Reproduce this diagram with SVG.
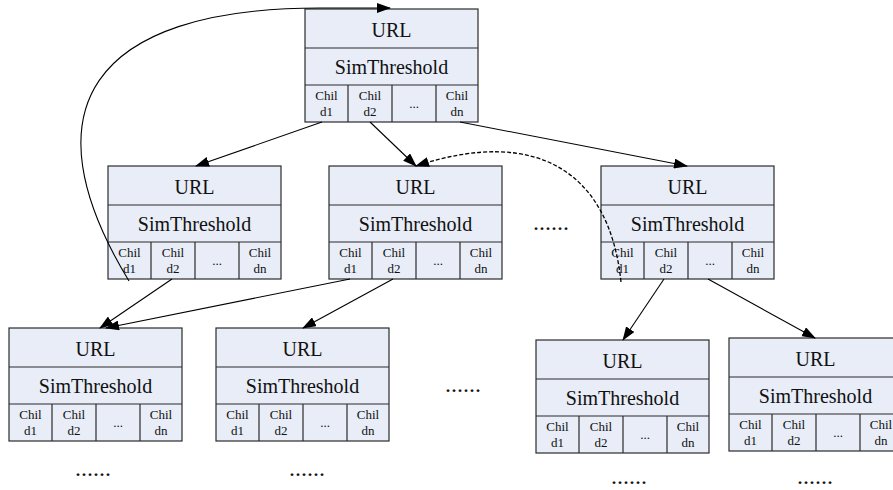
<svg xmlns="http://www.w3.org/2000/svg" width="893" height="490" viewBox="0 0 893 490">
  <defs>
    <marker id="arrow" markerUnits="userSpaceOnUse" markerWidth="14" markerHeight="10" refX="13" refY="5" orient="auto">
      <path d="M0,0 L14,5 L0,10 Z" fill="#000"/>
    </marker>
    <!-- one tree node: URL row, SimThreshold row, child-pointer row -->
    <g id="node">
      <rect x="0" y="0" width="173" height="113" class="box"/>
      <line x1="0" y1="39" x2="173" y2="39" class="div"/>
      <line x1="0" y1="76" x2="173" y2="76" class="div"/>
      <line x1="43" y1="76" x2="43" y2="113" class="div"/>
      <line x1="87" y1="76" x2="87" y2="113" class="div"/>
      <line x1="131" y1="76" x2="131" y2="113" class="div"/>
      <text x="86.5" y="28" class="big">URL</text>
      <text x="86.5" y="65" class="big">SimThreshold</text>
      <text x="21.5" y="91" class="small">Chil</text>
      <text x="21.5" y="106.5" class="small">d1</text>
      <text x="65" y="91" class="small">Chil</text>
      <text x="65" y="106.5" class="small">d2</text>
      <text x="109" y="99" class="small">...</text>
      <text x="152" y="91" class="small">Chil</text>
      <text x="152" y="106.5" class="small">dn</text>
    </g>
  </defs>
  <style>
    .box { fill: #E8EDF7; stroke: #2b2b2b; stroke-width: 1.2; }
    .div { stroke: #2b2b2b; stroke-width: 1.2; }
    text { font-family: "Liberation Serif", "Times New Roman", serif; text-anchor: middle; fill: #111; }
    .big { font-size: 20px; }
    .small { font-size: 13px; }
    .more { font-size: 24px; }
    .edge { fill: none; stroke: #000; stroke-width: 1.1; marker-end: url(#arrow); }
    .dash { stroke-dasharray: 4 2; stroke-width: 1.3; }
  </style>
  <rect width="893" height="490" fill="#fff"/>

  <g id="n0"><use href="#node" x="305" y="9"/></g>
  <g id="n1"><use href="#node" x="108" y="166"/></g>
  <g id="n2"><use href="#node" x="329" y="166"/></g>
  <g id="n3"><use href="#node" x="601" y="166"/></g>
  <g id="n4"><use href="#node" x="9" y="328"/></g>
  <g id="n5"><use href="#node" x="216" y="328"/></g>
  <g id="n6"><use href="#node" x="536" y="340"/></g>
  <g id="n7"><use href="#node" x="729" y="338"/></g>

  <g id="connectors">
    <path class="edge" d="M322,122 L196,166"/>
    <path class="edge" d="M370,122 L416,166"/>
    <path class="edge" d="M460,122 L687,166"/>
    <path class="edge" d="M172,279 L100,328"/>
    <path class="edge" d="M350,279 L106,328"/>
    <path class="edge" d="M393,279 L303,328"/>
    <path class="edge" d="M664,279 L623,340"/>
    <path class="edge" d="M708,279 L815,338"/>
    <path class="edge" d="M129,281 C25,110 90,8 320,8 L390,8"/>
    <path class="edge dash" d="M621,282 C610,175 540,125 416,166"/>
  </g>

  <g id="ellipses">
    <text x="551" y="230" class="more">......</text>
    <text x="463" y="392" class="more">......</text>
    <text x="93" y="476" class="more">......</text>
    <text x="307" y="476" class="more">......</text>
    <text x="629" y="484" class="more">......</text>
    <text x="815" y="484" class="more">......</text>
  </g>
</svg>
